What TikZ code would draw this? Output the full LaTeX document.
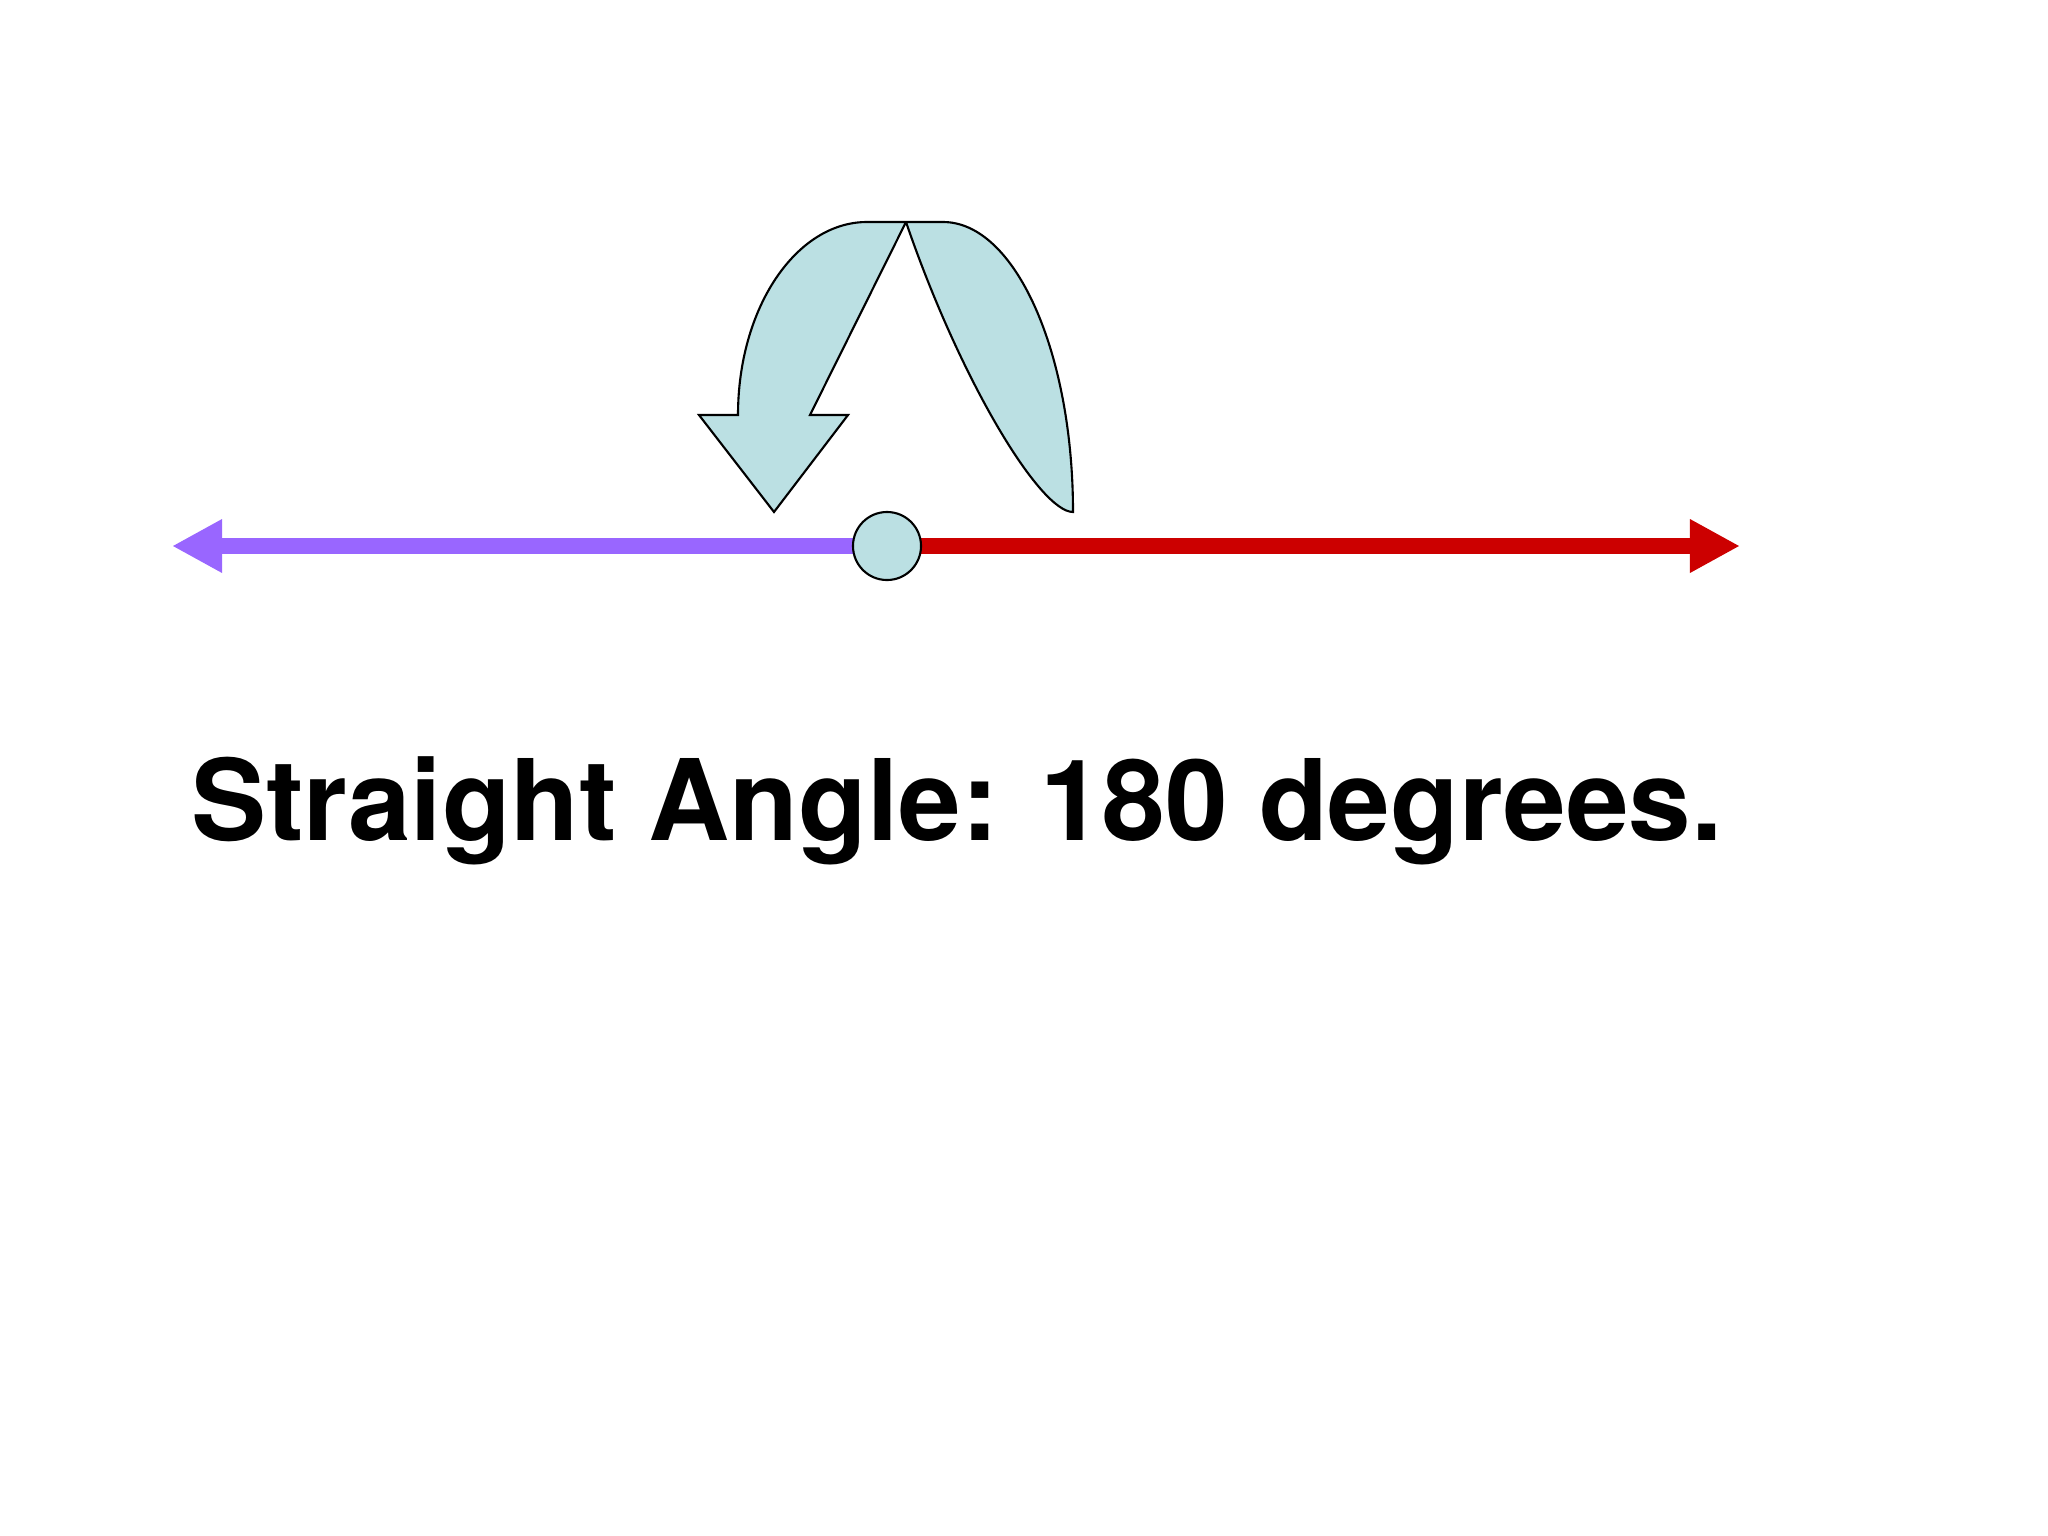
\documentclass[tikz,border=0pt]{standalone}
\usepackage{fontspec}
\setmainfont{TeX Gyre Heros}
\usetikzlibrary{arrows.meta, positioning}
\definecolor{lavender}{RGB}{153,102,255}
\definecolor{darkred}{RGB}{204,0,0}
\definecolor{paleblue}{RGB}{187,224,227}
\tikzset{>={Triangle[length=0.5cm, width=0.5cm]}}
\tikzset{ray/.style={line width=4.5pt, ->}, turn/.style={fill=paleblue, draw=black, line width=0.6pt}}

\begin{document}
\begin{tikzpicture}[x=0.01cm, y=-0.01cm]
		\useasboundingbox (0,0) rectangle (2048,1536);
		\coordinate (lefttip) at (172,546);
		\coordinate (righttip) at (1740,546);
		\draw [ray, lavender](887,546)--(lefttip);
		\draw [ray, darkred](887,546)--(righttip);
		\node (vertex) [circle, turn, minimum size=0.68cm, inner sep=0pt] at (887,546) {};
		% the half turn
		\draw [turn] (906,222) -- (867,222) .. controls (796,222) and (738,308) .. (738,415)
			-- (699,415) -- (774,512) -- (848,415) -- (810,415) -- cycle
			(906,222) -- (943,222) .. controls (1015,222) and (1073,352) .. (1073,512)
			.. controls (1040,512) and (960,380) .. (906,222);
		\node (label) [anchor=base, font=\fontsize{32}{38}\selectfont\bfseries] at (957,840){Straight Angle: 180 degrees.};
\end{tikzpicture}
\end{document}
